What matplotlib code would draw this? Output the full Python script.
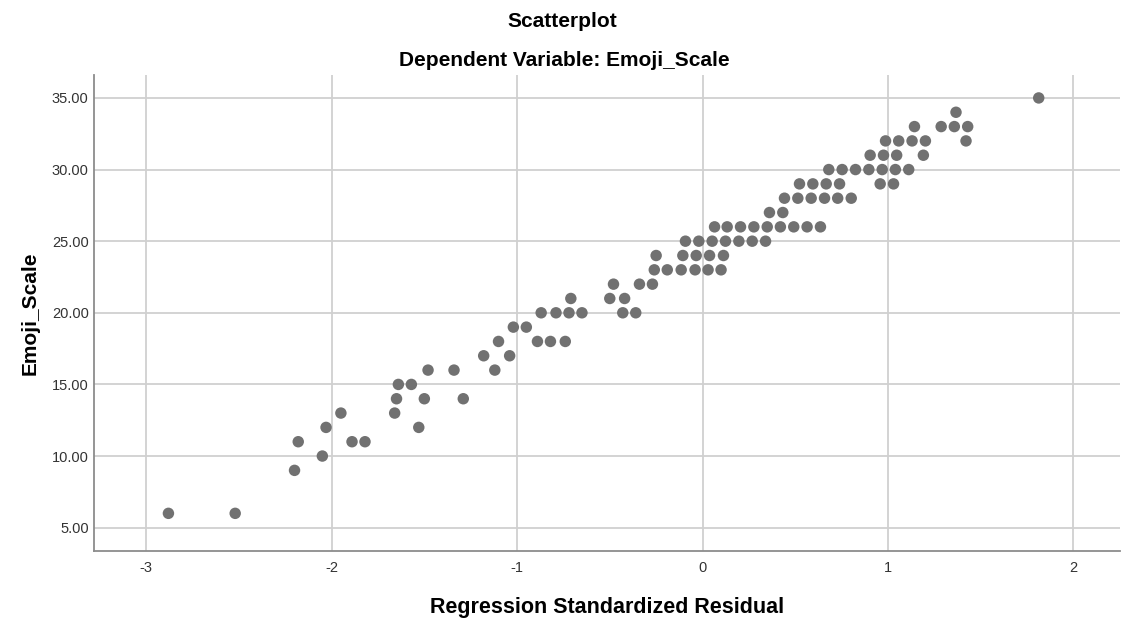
import matplotlib.pyplot as plt

plt.rcParams['font.family'] = ['Liberation Sans', 'DejaVu Sans']

# standardized residuals (x) and Emoji_Scale (y)
resid = [
    -2.88, -2.52,
    -2.20,
    -2.05,
    -2.18, -1.89, -1.82,
    -2.03, -1.53,
    -1.95, -1.66,
    -1.65, -1.50, -1.29,
    -1.64, -1.57,
    -1.48, -1.34, -1.12,
    -1.18, -1.04,
    -1.10, -0.89, -0.82, -0.74,
    -1.02, -0.95,
    -0.87, -0.79, -0.72, -0.65, -0.43, -0.36,
    -0.71, -0.50, -0.42,
    -0.48, -0.34, -0.27,
    -0.26, -0.19, -0.115, -0.04, 0.03, 0.10,
    -0.25, -0.106, -0.034, 0.038, 0.113,
    -0.092, -0.020, 0.052, 0.124, 0.196, 0.268, 0.34,
    0.065, 0.133, 0.205, 0.277, 0.349, 0.420, 0.492, 0.564, 0.636,
    0.361, 0.433,
    0.442, 0.514, 0.586, 0.658, 0.729, 0.802,
    0.523, 0.595, 0.667, 0.739, 0.958, 1.030,
    0.681, 0.753, 0.825, 0.897, 0.969, 1.040, 1.112,
    0.904, 0.976, 1.047, 1.191,
    0.987, 1.058, 1.130, 1.202, 1.421,
    1.143, 1.287, 1.358, 1.430,
    1.367,
    1.813,
]
emoji = [
    6, 6,
    9,
    10,
    11, 11, 11,
    12, 12,
    13, 13,
    14, 14, 14,
    15, 15,
    16, 16, 16,
    17, 17,
    18, 18, 18, 18,
    19, 19,
    20, 20, 20, 20, 20, 20,
    21, 21, 21,
    22, 22, 22,
    23, 23, 23, 23, 23, 23,
    24, 24, 24, 24, 24,
    25, 25, 25, 25, 25, 25, 25,
    26, 26, 26, 26, 26, 26, 26, 26, 26,
    27, 27,
    28, 28, 28, 28, 28, 28,
    29, 29, 29, 29, 29, 29,
    30, 30, 30, 30, 30, 30, 30,
    31, 31, 31, 31,
    32, 32, 32, 32, 32,
    33, 33, 33, 33,
    34,
    35,
]

x_ticks = [-3, -2, -1, 0, 1, 2]
y_ticks = [5, 10, 15, 20, 25, 30, 35]

fig = plt.figure(figsize=(11.22, 6.21), dpi=100)
ax = fig.add_axes([0.084, 0.1127, 0.914, 0.7665])

ax.scatter(resid, emoji, s=68, color='#717171', edgecolors='none', zorder=3)

ax.set_xlim(-3.28, 2.25)
ax.set_ylim(3.37, 36.6)
ax.set_xticks(x_ticks)
ax.set_xticklabels([str(t) for t in x_ticks])
ax.set_yticks(y_ticks)
ax.set_yticklabels([f'{t:.2f}' for t in y_ticks])
ax.tick_params(length=0, labelsize=10.5, labelcolor='#333333')
ax.tick_params(axis='x', pad=7)
ax.tick_params(axis='y', pad=4)

ax.grid(True, color='#d0d0d0', linewidth=1.3)
ax.set_axisbelow(True)
for side in ['top', 'right']:
    ax.spines[side].set_visible(False)
for side in ['left', 'bottom']:
    ax.spines[side].set_color('#8c8c8c')
    ax.spines[side].set_linewidth(1.3)

ax.set_xlabel('Regression Standardized Residual', fontsize=15.5, fontweight='bold', labelpad=16)
ax.set_ylabel('Emoji_Scale', fontsize=15, fontweight='bold', labelpad=9)

fig.text(0.501, 0.966, 'Scatterplot', ha='center', va='center', fontsize=15, fontweight='bold')
fig.text(0.503, 0.902, 'Dependent Variable: Emoji_Scale', ha='center', va='center',
         fontsize=15, fontweight='bold')

plt.savefig('out.png', dpi=100)
